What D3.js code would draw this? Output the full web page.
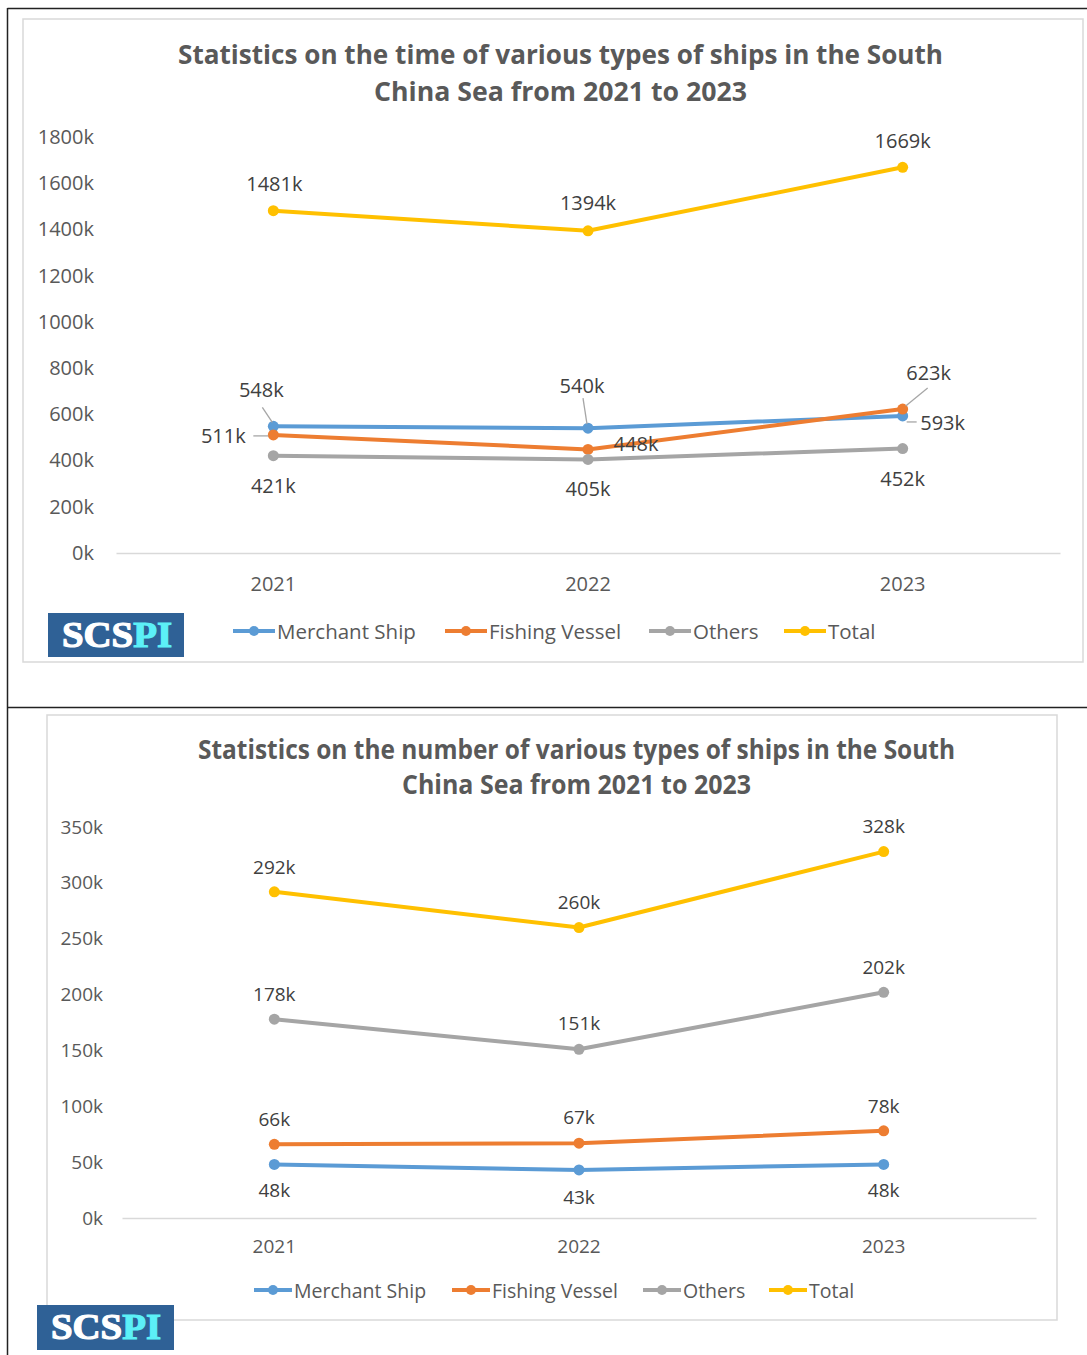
<!DOCTYPE html>
<html><head><meta charset="utf-8">
<script src="https://cdn.jsdelivr.net/npm/d3@7"></script>
<style>
body{margin:0;background:#fff;}
</style></head>
<body>
<script>
// ---- data ----
const years = ["2021", "2022", "2023"];
const seriesNames = ["Merchant Ship", "Fishing Vessel", "Others", "Total"];
// chart 1: time (k)
const timeMerchant = [548, 540, 593];
const timeFishing = [511, 448, 623];
const timeOthers = [421, 405, 452];
const timeTotal = [1481, 1394, 1669];
const timeTicks = [0, 200, 400, 600, 800, 1000, 1200, 1400, 1600, 1800];
// chart 2: number (k)
const numMerchant = [48, 43, 48];
const numFishing = [66, 67, 78];
const numOthers = [178, 151, 202];
const numTotal = [292, 260, 328];
const numTicks = [0, 50, 100, 150, 200, 250, 300, 350];

const colors = ["#5B9BD5", "#ED7D31", "#A5A5A5", "#FFC000"];

const W = 1087, H = 1355;
const FONT = "'Open Sans', sans-serif";
const svg = d3.select("body").append("svg").attr("width", W).attr("height", H)
  .style("font-family", FONT);
svg.append("rect").attr("width", W).attr("height", H).attr("fill", "#fff");

// outer black frame lines
svg.append("line").attr("x1", 7.5).attr("x2", W).attr("y1", 8.5).attr("y2", 8.5).attr("stroke", "#222").attr("stroke-width", 1.5);
svg.append("line").attr("x1", 7.5).attr("x2", 7.5).attr("y1", 8).attr("y2", H).attr("stroke", "#222").attr("stroke-width", 1.5);
svg.append("line").attr("x1", 7).attr("x2", W).attr("y1", 707.5).attr("y2", 707.5).attr("stroke", "#222").attr("stroke-width", 1.5);

function drawChart(cfg) {
  const g = svg.append("g");
  // chart border
  g.append("rect").attr("x", cfg.box[0]).attr("y", cfg.box[1]).attr("width", cfg.box[2]).attr("height", cfg.box[3])
    .attr("fill", "#fff").attr("stroke", "#d9d9d9").attr("stroke-width", 1.5);
  // title
  cfg.title.forEach((t, i) => {
    g.append("text").attr("x", cfg.titleX[i]).attr("y", cfg.titleY[i])
      .attr("font-size", cfg.titleSize).attr("font-weight", "bold").attr("fill", "#595959")
      .attr("textLength", cfg.titleLen[i]).attr("lengthAdjust", "spacingAndGlyphs")
      .text(t);
  });
  const x = d3.scaleBand().domain(years).range([cfg.plot[0], cfg.plot[1]]);
  const y = d3.scaleLinear().domain([0, d3.max(cfg.ticks)]).range([cfg.plot[2], cfg.plot[3]]);
  // y axis
  const ya = g.append("g").attr("transform", `translate(${cfg.yLabelX},0)`)
    .call(d3.axisLeft(y).tickValues(cfg.ticks).tickSize(0).tickPadding(0).tickFormat(d => d + "k"));
  ya.select(".domain").remove();
  ya.selectAll("text").attr("font-size", cfg.tickSize).attr("fill", "#595959").style("font-family", FONT);
  // x axis
  const xa = g.append("g").attr("transform", `translate(0,${cfg.plot[2]})`)
    .call(d3.axisBottom(x).tickSize(0).tickPadding(cfg.xPad));
  xa.select(".domain").attr("stroke", "#d9d9d9").attr("stroke-width", 1.3);
  xa.selectAll("text").attr("font-size", cfg.tickSize).attr("fill", "#595959").style("font-family", FONT);

  const cx = d => x(d) + x.bandwidth() / 2;
  const line = d3.line().x((d, i) => cx(years[i])).y(d => y(d));
  cfg.series.forEach((s, si) => {
    g.append("path").datum(s).attr("d", line).attr("fill", "none").attr("stroke", colors[si])
      .attr("stroke-width", 4).attr("stroke-linecap", "round").attr("stroke-linejoin", "round");
    g.selectAll(null).data(s).enter().append("circle")
      .attr("cx", (d, i) => cx(years[i])).attr("cy", d => y(d)).attr("r", 5.5).attr("fill", colors[si]);
  });
  // data labels
  cfg.series.forEach((s, si) => {
    s.forEach((v, i) => {
      const o = cfg.labelOff[si][i];
      const px = cx(years[i]), py = y(v);
      if (o[2]) {
        g.append("line").attr("x1", px + o[2][0]).attr("y1", py + o[2][1]).attr("x2", px + o[2][2]).attr("y2", py + o[2][3])
          .attr("stroke", "#a6a6a6").attr("stroke-width", 1.3);
      }
      g.append("text").attr("x", px + o[0]).attr("y", py + o[1]).attr("text-anchor", "middle")
        .attr("dominant-baseline", "central").attr("font-size", cfg.tickSize).attr("fill", "#404040")
        .text(v + "k");
    });
  });
  // legend
  seriesNames.forEach((n, si) => {
    const lx = cfg.legendX[si], ly = cfg.legendY;
    g.append("line").attr("x1", lx).attr("x2", lx + cfg.legendLine).attr("y1", ly).attr("y2", ly)
      .attr("stroke", colors[si]).attr("stroke-width", 4);
    g.append("circle").attr("cx", lx + cfg.legendLine / 2).attr("cy", ly).attr("r", 5).attr("fill", colors[si]);
    g.append("text").attr("x", lx + cfg.legendLine + 2).attr("y", ly).attr("dominant-baseline", "central")
      .attr("font-size", cfg.legendSize).attr("fill", "#595959").text(n);
  });
  // logo
  const lg = cfg.logo;
  g.append("rect").attr("x", lg[0]).attr("y", lg[1]).attr("width", lg[2]).attr("height", lg[3]).attr("fill", "#2F6196");
  const lt = g.append("text").attr("x", lg[0] + 14).attr("y", lg[1] + 34)
    .style("font-family", "'Liberation Serif', 'DejaVu Serif', serif").attr("font-weight", "bold").attr("font-size", 36)
    .attr("stroke-width", 1.2)
    .attr("textLength", 110).attr("lengthAdjust", "spacingAndGlyphs");
  lt.append("tspan").attr("fill", "#ffffff").attr("stroke", "#ffffff").text("SCS");
  lt.append("tspan").attr("fill", "#5CF0F7").attr("stroke", "#5CF0F7").text("PI");
}

drawChart({
  box: [23, 19, 1060, 643],
  title: ["Statistics on the time of various types of ships in the South", "China Sea from 2021 to 2023"],
  titleX: [178, 374], titleY: [64, 101], titleLen: [765, 373], titleSize: 27,
  plot: [116, 1060, 553, 137],
  ticks: timeTicks,
  yLabelX: 94, tickSize: 20, legendSize: 20.5, xPad: 24,
  series: [timeMerchant, timeFishing, timeOthers, timeTotal],
  labelOff: [
    [[-12, -37, [-11, -19, -1, -4]], [-6, -43, [-5, -30, -1, -4]], [40, 7, [4, 6, 14, 6]]],
    [[-50, 1, [-20, 1, -5, 1]], [48, -6], [26, -37, [25, -21, 3, -3]]],
    [[0, 30], [0, 29], [0, 30]],
    [[1, -27], [0, -28], [0, -27]]
  ],
  legendX: [233, 445, 649, 784], legendY: 631, legendLine: 42,
  logo: [48, 613, 136, 44]
});

drawChart({
  box: [47, 715, 1010, 605],
  title: ["Statistics on the number of various types of ships in the South", "China Sea from 2021 to 2023"],
  titleX: [198, 402], titleY: [759, 794], titleLen: [757, 349], titleSize: 26,
  plot: [122, 1036, 1218, 827],
  ticks: numTicks,
  yLabelX: 103, tickSize: 19, legendSize: 19.5, xPad: 22,
  series: [numMerchant, numFishing, numOthers, numTotal],
  labelOff: [
    [[0, 26], [0, 27], [0, 26]],
    [[0, -25], [0, -26], [0, -25]],
    [[0, -25], [0, -26], [0, -25]],
    [[0, -25], [0, -26], [0, -26]]
  ],
  legendX: [254, 452, 643, 769], legendY: 1290, legendLine: 38,
  logo: [37, 1305, 137, 45]
});
</script>
</body></html>
